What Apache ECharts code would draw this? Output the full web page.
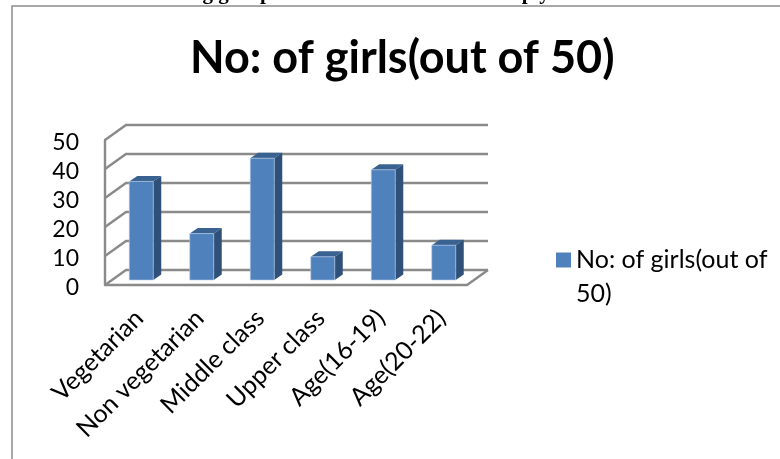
<!DOCTYPE html>
<html><head><meta charset="utf-8">
<style>html,body{margin:0;padding:0;background:#fff}#c{width:780px;height:459px}</style>
<script src="https://cdn.jsdelivr.net/npm/echarts@6/dist/echarts.min.js"></script>
</head><body><div id="c"></div>
<script>
var categories = ['Vegetarian','Non vegetarian','Middle class','Upper class','Age(16-19)','Age(20-22)'];
var girls = [34,16,42,8,38,12];
var valueTicks = [0,10,20,30,40,50];
var seriesName = 'No: of girls(out of 50)';
var titleText = 'No: of girls(out of 50)';
var headerText = 'The following group wises the data collected simply etc';

var WALL_DX = 21, WALL_DY = -15, DEPTH_DX = 8, DEPTH_DY = -5.5, BAR_W = 24;
var GRID = '#8a8a8a';

function renderWall(params, api) {
  var v = api.value(0);
  var cs = params.coordSys;
  var p = api.coord([0, v]);
  var x0 = cs.x, x1 = cs.x + cs.width, y = p[1];
  var children = [{
    type:'polyline',
    shape:{points:[[x0,y],[x0+WALL_DX,y+WALL_DY],[x1+WALL_DX,y+WALL_DY]]},
    style:{stroke:GRID,lineWidth:2.4,fill:null}
  }];
  if (v === 0) {
    children.push({
      type:'polyline',
      shape:{points:[[x0,y],[x1,y],[x1+WALL_DX,y+WALL_DY]]},
      style:{stroke:GRID,lineWidth:2.4,fill:null}
    });
  }
  return {type:'group',children:children};
}
function renderBar(params, api) {
  var top = api.coord([api.value(0), api.value(1)]);
  var base = api.coord([api.value(0), 0]);
  var l = top[0]-BAR_W/2, r = top[0]+BAR_W/2, t = top[1], b = base[1];
  return {type:'group',children:[
    {type:'polygon',shape:{points:[[l,t],[l+DEPTH_DX,t+DEPTH_DY],[r+DEPTH_DX,t+DEPTH_DY],[r,t]]},style:{fill:'#3a6291'}},
    {type:'polygon',shape:{points:[[r,t],[r+DEPTH_DX,t+DEPTH_DY],[r+DEPTH_DX,b+DEPTH_DY],[r,b]]},style:{fill:'#2f5078'}},
    {type:'rect',shape:{x:l,y:t,width:BAR_W,height:b-t},style:{fill:'#4f81bd',stroke:'#b9cde5',lineWidth:0.6}}
  ]};
}

var chart = echarts.init(document.getElementById('c'));
var FONT = 'Lato';
chart.setOption({
  animation:false,
  backgroundColor:'#fff',
  title:{text:titleText,left:190,top:36,padding:0,textStyle:{fontFamily:FONT,fontSize:45,fontWeight:'bold',color:'#000'}},
  legend:{
    left:556,top:209,padding:0,itemWidth:15,itemHeight:15,itemGap:0,icon:'rect',
    data:[seriesName],
    formatter:function(){return '\nNo: of girls(out of\n50)';},
    textStyle:{fontFamily:FONT,fontSize:25,color:'#000',lineHeight:34}
  },
  grid:[
    {left:105,top:140,width:362,height:145},
    {left:111,top:135,width:363,height:145},
    {left:105,top:143,width:362,height:145}
  ],
  xAxis:[
    {gridIndex:0,type:'category',data:categories,show:false},
    {gridIndex:1,type:'category',data:categories,
     axisLine:{show:false},axisTick:{show:false},
     axisLabel:{interval:0,rotate:45,margin:32,padding:[0,3,0,0],fontFamily:FONT,fontSize:25,color:'#000'}},
    {gridIndex:2,type:'category',data:categories,show:false}
  ],
  yAxis:[
    {gridIndex:0,type:'value',min:0,max:50,interval:10,
     axisLine:{show:true,lineStyle:{color:GRID,width:2.4}},axisTick:{show:false},splitLine:{show:false},
     axisLabel:{show:false}},
    {gridIndex:1,type:'value',min:0,max:50,interval:10,show:false,splitLine:{show:false}},
    {gridIndex:2,type:'value',min:0,max:50,interval:10,
     axisLine:{show:false},axisTick:{show:false},splitLine:{show:false},
     axisLabel:{margin:26,fontFamily:FONT,fontSize:23,color:'#000'}}
  ],
  graphic:[
    {type:'rect',silent:true,z:0,shape:{x:12,y:6,width:800,height:500},style:{fill:'#fff',stroke:'#8c8c8c',lineWidth:1.5}},
    {type:'text',silent:true,z:1,left:90,top:-17,style:{text:headerText,fontFamily:'Liberation Serif',fontWeight:'bold',fontSize:21,fill:'#000'}}
  ],
  series:[
    {type:'custom',name:'walls',xAxisIndex:0,yAxisIndex:0,z:1,silent:true,clip:false,
     data:valueTicks.map(function(v){return [v];}),encode:{y:0},renderItem:renderWall},
    {type:'custom',name:seriesName,xAxisIndex:1,yAxisIndex:1,z:3,silent:true,clip:false,
     itemStyle:{color:'#4f81bd'},
     data:girls.map(function(v,i){return [i,v];}),encode:{x:0,y:1},renderItem:renderBar}
  ]
});
</script></body></html>
